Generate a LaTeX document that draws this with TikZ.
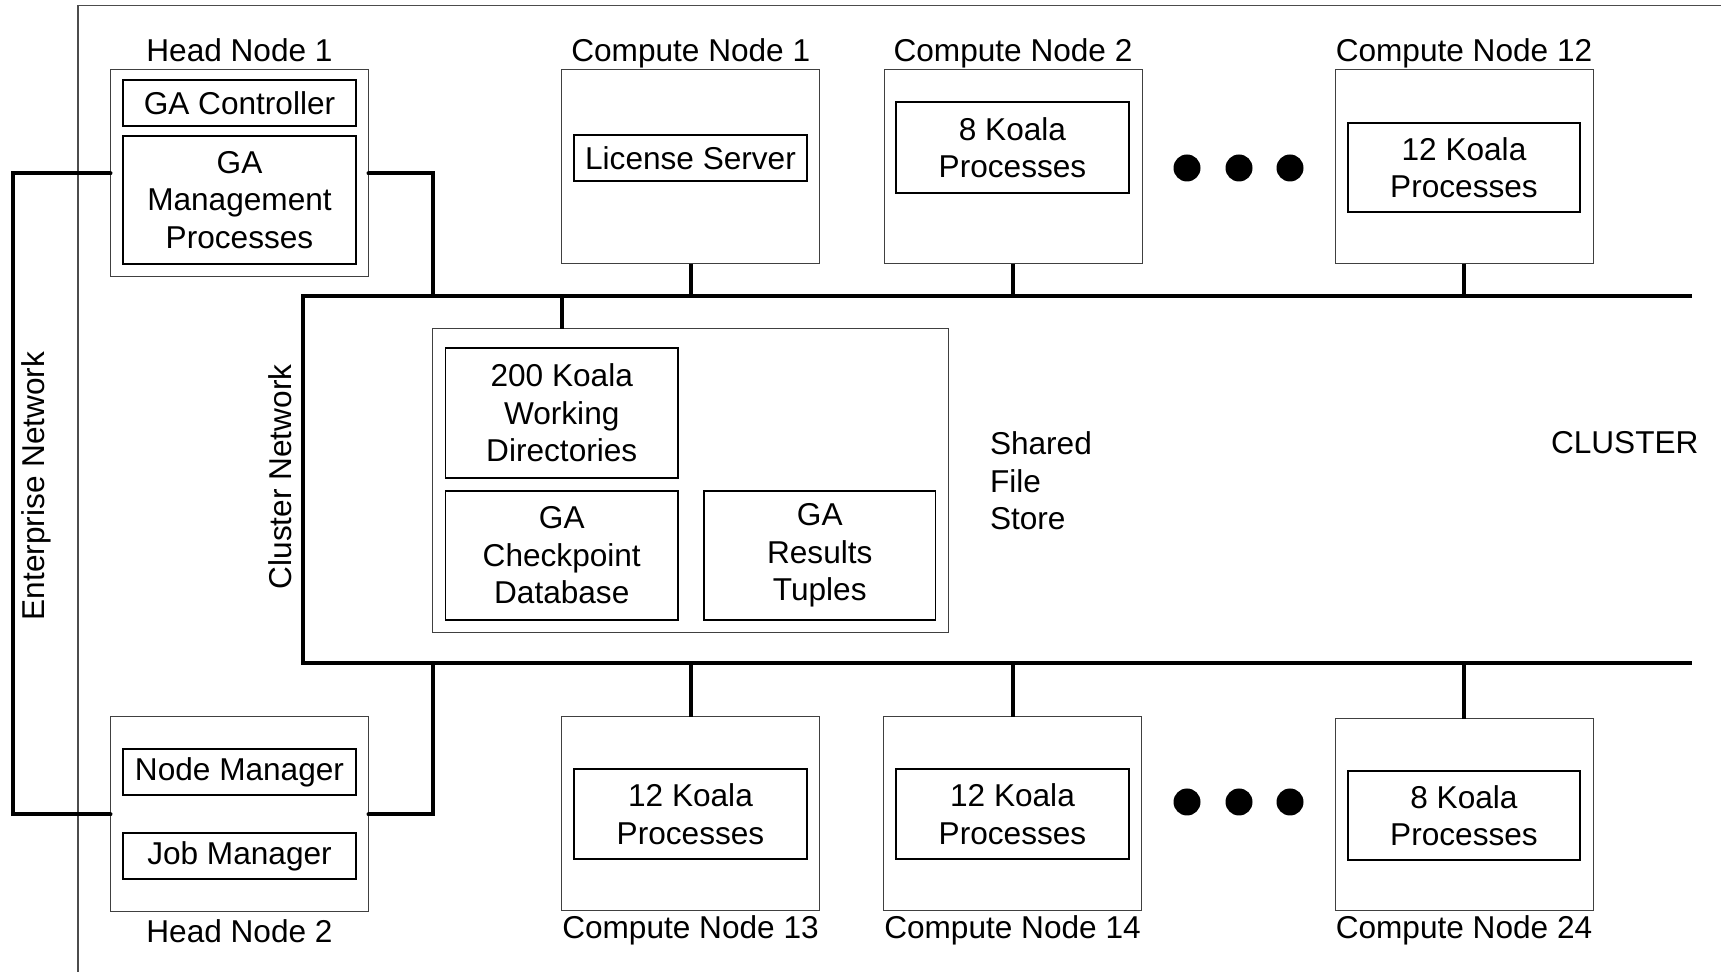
\documentclass[tikz,border=0pt]{standalone}
\usepackage{fontspec}
\setmainfont{Liberation Sans}
\usepackage{tikz}

\begin{document}
\begin{tikzpicture}[x=0.5pt,y=-0.5pt]
        \tikzstyle{every node} = [rectangle, inner sep=0pt, outer sep=0pt, font=\fontsize{15.8}{18.75}\selectfont]
        \tikzstyle{hostbox} = [draw=black!75, line width=0.5pt, minimum width=129pt]
        \tikzstyle{procbox} = [draw, line width=0.7pt, minimum width=116.5pt, align=center]
        \tikzstyle{net} = [line width=2pt]
        \tikzstyle{dot} = [fill, circle, minimum size=13.5pt]
        \useasboundingbox (0,0) rectangle (1721,972);

        % cluster frame (cut off at the page edge)
        \draw[draw=black!70, line width=0.6pt] (78,972) -- (78,5.5) -- (1721,5.5);

        % head nodes
        \node[hostbox, minimum height=103.5pt] (hn1) at (239.5,173.5) {};
        \node[procbox, minimum height=23pt] (gactl) at (239.5,103) {GA Controller};
        \node[procbox, minimum height=64pt] (gamgmt) at (239.5,200) {GA\\Management\\Processes};
        \node[anchor=base] (lblhn1) at (239.5,62) {Head Node 1};

        \node[hostbox, minimum height=97.5pt] (hn2) at (239.5,814.5) {};
        \node[procbox, minimum height=23pt] (nodemgr) at (239.5,772) {Node Manager};
        \node[procbox, minimum height=23pt] (jobmgr) at (239.5,856) {Job Manager};
        \node[anchor=base] (lblhn2) at (239.5,943) {Head Node 2};

        % compute nodes, top row
        \node[hostbox, minimum height=97pt] (cn1) at (690.75,167) {};
        \node[procbox, minimum height=23pt] (licsrv) at (690.5,158) {License Server};
        \node[anchor=base] (lblcn1) at (690.75,62) {Compute Node 1};

        \node[hostbox, minimum height=97pt] (cn2) at (1013,167) {};
        \node[procbox, minimum height=45.5pt] (koala2) at (1012.5,147.5) {8 Koala\\Processes};
        \node[anchor=base] (lblcn2) at (1013,62) {Compute Node 2};

        \node[hostbox, minimum height=97pt] (cn12) at (1464,167) {};
        \node[procbox, minimum width=116pt, minimum height=44.5pt] (koala12) at (1464,167.5) {12 Koala\\Processes};
        \node[anchor=base] (lblcn12) at (1464,62) {Compute Node 12};

        % compute nodes, bottom row
        \node[hostbox, minimum height=97pt] (cn13) at (690.5,814) {};
        \node[procbox, minimum height=45pt] (koala13) at (690.5,814) {12 Koala\\Processes};
        \node[anchor=base] (lblcn13) at (690.5,939) {Compute Node 13};

        \node[hostbox, minimum height=97pt] (cn14) at (1012.5,814) {};
        \node[procbox, minimum height=45pt] (koala14) at (1012.5,814) {12 Koala\\Processes};
        \node[anchor=base] (lblcn14) at (1012.5,939) {Compute Node 14};

        \node[hostbox, minimum height=96pt] (cn24) at (1464,815) {};
        \node[procbox, minimum width=116pt, minimum height=44.5pt] (koala24) at (1464,815.5) {8 Koala\\Processes};
        \node[anchor=base] (lblcn24) at (1464,939) {Compute Node 24};

        % dots
        \foreach \x/\n in {1187/a, 1239/b, 1290/c} {
            \node[dot] (topdot\n) at (\x,168) {};
            \node[dot] (botdot\n) at (\x,802) {};
        }

        % shared file store
        \node[hostbox, minimum width=257.75pt, minimum height=152pt] (sfs) at (690.25,481) {};
        \node[procbox, minimum width=116.25pt, minimum height=65pt] (workdirs) at (561.75,413) {200 Koala\\Working\\Directories};
        \node[procbox, minimum width=116.25pt, minimum height=64.5pt] (ckptdb) at (561.75,555.5) {GA\\Checkpoint\\Database};
        \node[procbox, minimum width=115.75pt, minimum height=64.5pt] (results) at (819.75,555.5) {GA\\Results\\Tuples};
        \node[anchor=west, align=left] (lblsfs) at (990,481) {Shared\\File\\Store};

        \node[anchor=west] (lblcluster) at (1551,443) {CLUSTER};
        \node[rotate=90] (lblent) at (36,486) {Enterprise Network};
        \node[rotate=90] (lblclnet) at (280,477) {Cluster Network};

        % networks
        \coordinate (bustl) at (303,296);
        \coordinate (bustr) at (1692,296);
        \coordinate (busbl) at (303,663);
        \coordinate (busbr) at (1692,663);
        \coordinate (ent) at (13,480);
        \coordinate (hubt) at (433,296);
        \coordinate (hubb) at (433,663);

        \draw[net] (bustr) -- (bustl) -- (busbl) -- (busbr);
        \draw[net, line cap=round] (hn1.west) -| (ent) |- (hn2.west);
        \draw[net, line cap=round] (hn1.east) -| (hubt);
        \draw[net, line cap=round] (hn2.east) -| (hubb);
        \draw[net] (workdirs.north |- bustl) -- (workdirs.north |- sfs.north);
        \foreach \n in {cn1, cn2, cn12}
            \draw[net] (\n.south) -- (\n.south |- bustl);
        \foreach \n in {cn13, cn14, cn24}
            \draw[net] (\n.north) -- (\n.north |- busbl);
    \end{tikzpicture}
\end{document}
